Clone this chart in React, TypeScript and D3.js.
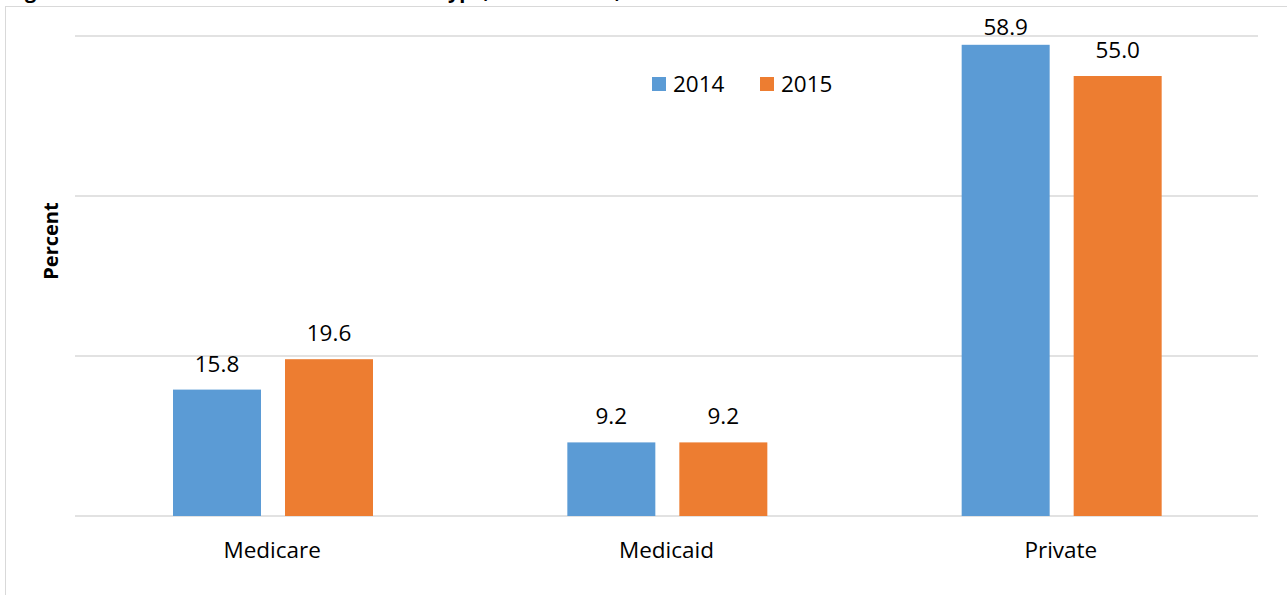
import React from "react";
import * as d3 from "d3";

const categories = ["Medicare", "Medicaid", "Private"];
const seriesNames = ["2014", "2015"];
const values2014 = [15.8, 9.2, 58.9];
const values2015 = [19.6, 9.2, 55.0];
const gridTicks = [0, 20, 40, 60];
const colors = ["#5B9BD5", "#ED7D31"];

const W = 1287;
const H = 595;
const margin = { top: 36, right: 29, bottom: 79, left: 75 };
const font = "'Open Sans', 'Noto Sans', sans-serif";

const App = () => {
  const innerW = W - margin.left - margin.right;
  const innerH = H - margin.top - margin.bottom;

  const x = d3.scaleBand().domain(categories).range([0, innerW]).padding(0);
  const x1 = d3
    .scaleBand()
    .domain(seriesNames)
    .range([98, 298])
    .paddingInner(0.2143)
    .paddingOuter(0);
  const y = d3.scaleLinear().domain([0, 60]).range([innerH, 0]);

  const seriesData = [values2014, values2015];

  return (
    <svg
      width={W}
      height={H}
      style={{ position: "absolute", left: 0, top: 0, background: "#fff" }}
      fontFamily={font}
    >
      {/* title, cut off at the top edge as in the source */}
      <text x={8} y={-2} fontSize={20} fontWeight="bold" fill="#000">
        Figure 5. Percent Distribution of Insurance Type, Connecticut, 2014 and 2015
      </text>
      <rect x={5.5} y={6.5} width={W} height={H} fill="none" stroke="#d9d9d9" />

      <g transform={`translate(${margin.left},${margin.top})`}>
        {gridTicks.map((t) => (
          <line
            key={t}
            x1={0}
            x2={innerW}
            y1={y(t)}
            y2={y(t)}
            stroke="#d9d9d9"
            strokeWidth={1.3}
          />
        ))}

        {categories.map((c, i) => (
          <g key={c} transform={`translate(${x(c)},0)`}>
            {seriesNames.map((s, j) => {
              const v = seriesData[j][i];
              const top = y(v);
              const bx = x1(s) || 0;
              return (
                <g key={s}>
                  <rect
                    x={bx}
                    y={top}
                    width={x1.bandwidth()}
                    height={innerH - top}
                    fill={colors[j]}
                  />
                  <text
                    x={bx + x1.bandwidth() / 2}
                    y={Math.max(top - 18, -1)}
                    textAnchor="middle"
                    fontSize={22.5}
                    fill="#000"
                  >
                    {v.toFixed(1)}
                  </text>
                </g>
              );
            })}
            <text
              x={x.bandwidth() / 2}
              y={innerH + 42}
              textAnchor="middle"
              fontSize={22.5}
              fill="#000"
            >
              {c}
            </text>
          </g>
        ))}
      </g>

      {/* legend */}
      <g transform="translate(652,77)">
        {seriesNames.map((s, j) => (
          <g key={s} transform={`translate(${j * 108},0)`}>
            <rect x={0} y={0} width={14} height={14} fill={colors[j]} />
            <text x={21} y={15} fontSize={22.5} fill="#000">
              {s}
            </text>
          </g>
        ))}
      </g>

      <text
        transform={`translate(58,${margin.top + 205}) rotate(-90)`}
        textAnchor="middle"
        fontSize={20}
        fontWeight="bold"
        fill="#000"
      >
        Percent
      </text>
    </svg>
  );
};

export default App;
